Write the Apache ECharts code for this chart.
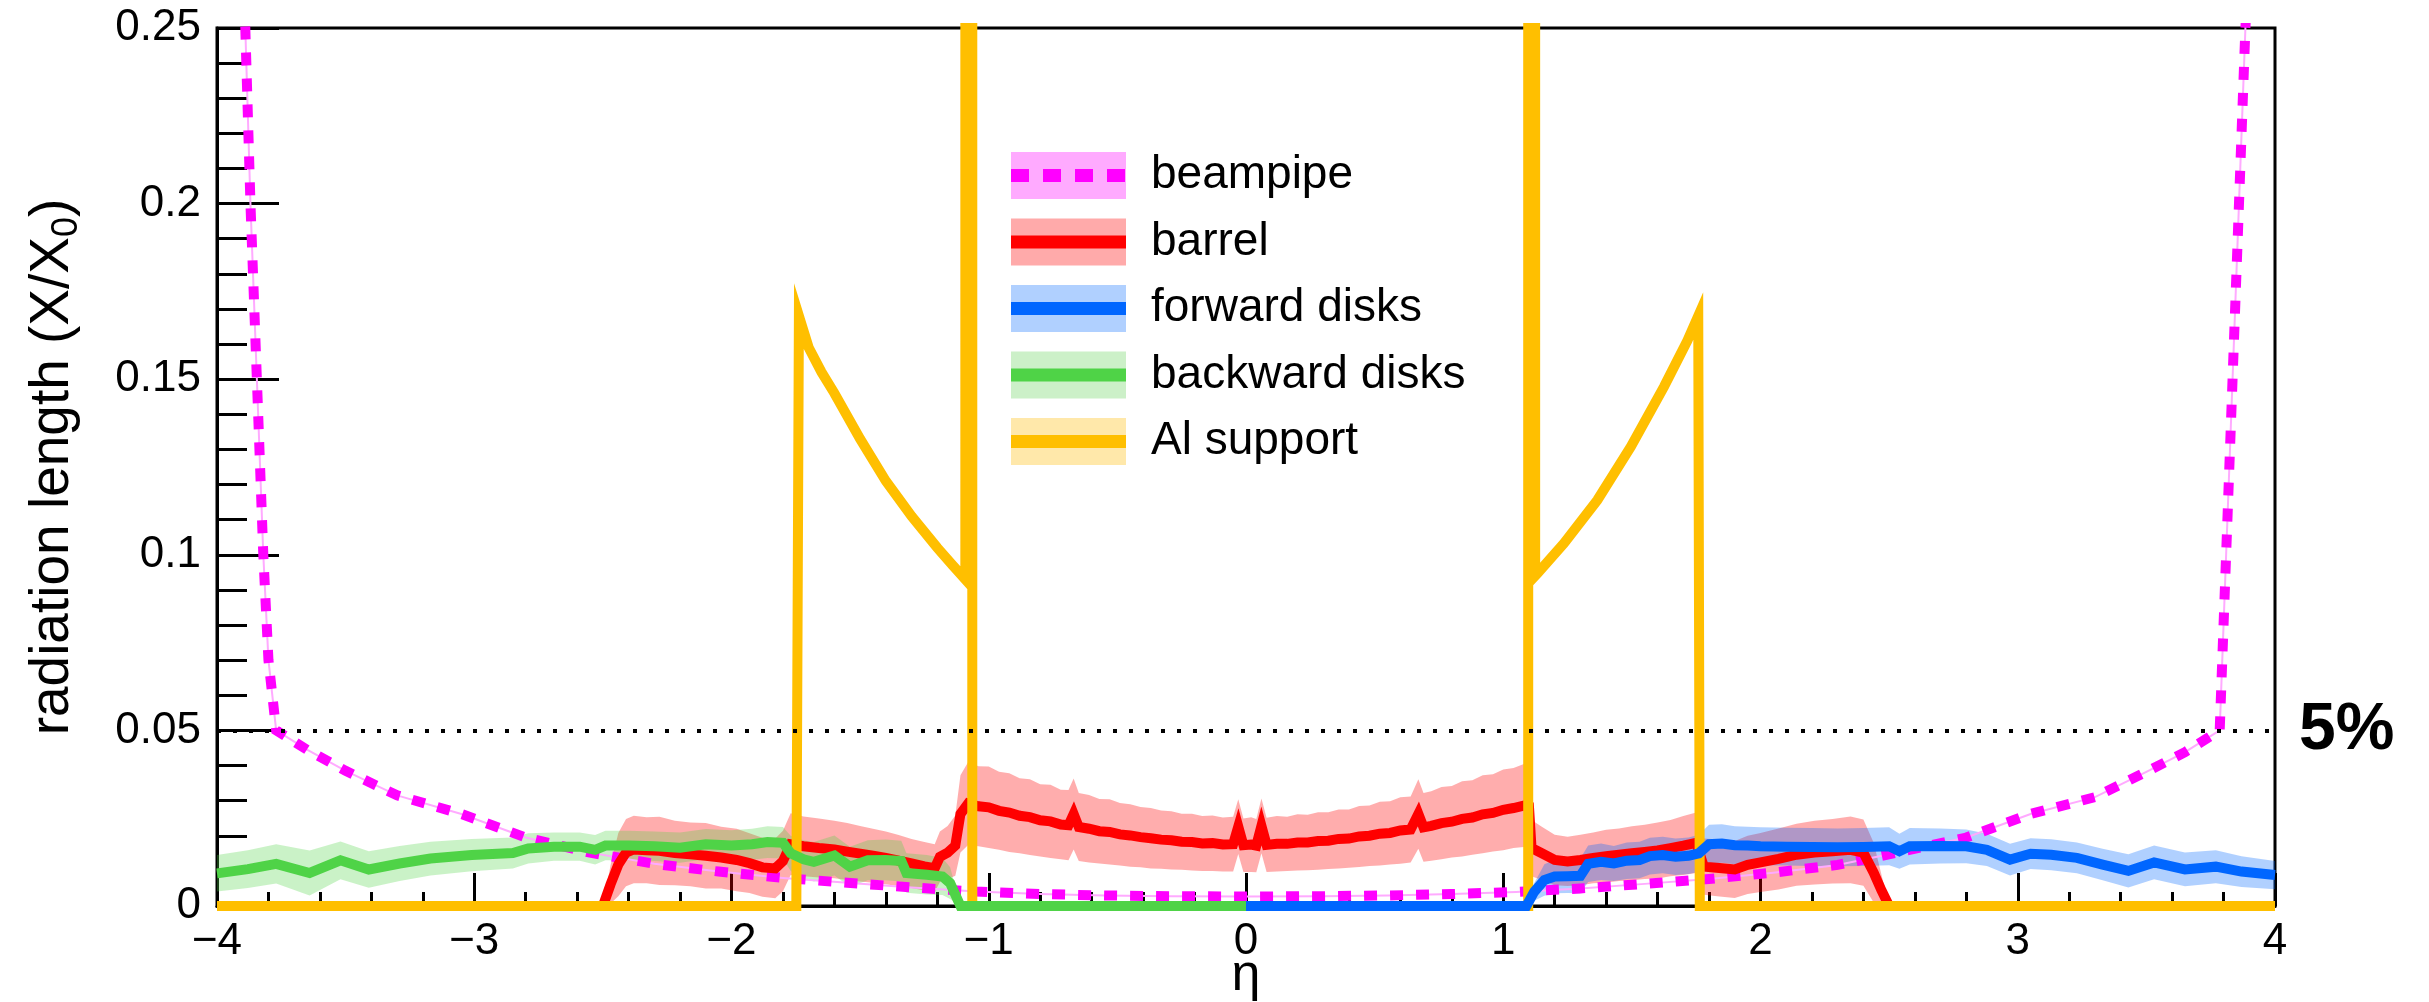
<!DOCTYPE html>
<html>
<head>
<meta charset="utf-8">
<title>Radiation length vs pseudorapidity</title>
<script src="https://cdn.jsdelivr.net/npm/echarts@6.0.0/dist/echarts.min.js"></script>
<style>
  html, body { margin: 0; padding: 0; background: #ffffff; }
  #chart { width: 2429px; height: 1002px; }
</style>
</head>
<body>
<div id="chart"></div>
<script>
// ---------------- data ----------------
// beampipe (thin central pipe, rises steeply at large |eta|)
const beampipeEta = [-3.91, -3.89, -3.87, -3.845, -3.82, -3.80, -3.77, -3.65, -3.50, -3.30, -3.05, -2.80, -2.55, -2.30, -2.05, -1.80, -1.55, -1.30, -1.05, -0.80, -0.55, -0.30, 0.00, 0.30, 0.55, 0.80, 1.05, 1.30, 1.55, 1.80, 2.05, 2.30, 2.55, 2.80, 3.05, 3.30, 3.50, 3.65, 3.785, 3.795, 3.81, 3.835, 3.86, 3.885, 3.905];
const beampipeVal = [0.280, 0.250, 0.200, 0.150, 0.100, 0.070, 0.050, 0.0445, 0.0385, 0.0315, 0.0262, 0.0195, 0.0152, 0.0120, 0.0098, 0.0080, 0.0066, 0.0053, 0.0041, 0.0034, 0.0030, 0.0028, 0.0027, 0.0028, 0.0030, 0.0034, 0.0040, 0.0050, 0.0063, 0.0077, 0.0095, 0.0117, 0.0155, 0.0195, 0.0262, 0.0310, 0.0382, 0.0438, 0.0500, 0.070, 0.100, 0.150, 0.200, 0.250, 0.280];

// barrel layers
const barrelEta = [-2.60, -2.50, -2.47, -2.44, -2.41, -2.38, -2.33, -2.28, -2.22, -2.16, -2.10, -2.04, -1.98, -1.93, -1.88, -1.83, -1.80, -1.77, -1.72, -1.66, -1.60, -1.55, -1.50, -1.45, -1.40, -1.35, -1.30, -1.25, -1.21, -1.19, -1.16, -1.13, -1.11, -1.08, -1.04, -1.00, -0.96, -0.92, -0.88, -0.84, -0.80, -0.76, -0.72, -0.69, -0.67, -0.65, -0.61, -0.57, -0.53, -0.49, -0.45, -0.41, -0.37, -0.33, -0.29, -0.25, -0.21, -0.17, -0.13, -0.09, -0.05, -0.03, -0.01, 0.02, 0.04, 0.06, 0.08, 0.12, 0.16, 0.20, 0.24, 0.28, 0.32, 0.36, 0.40, 0.44, 0.48, 0.52, 0.56, 0.60, 0.64, 0.67, 0.69, 0.72, 0.76, 0.80, 0.84, 0.88, 0.92, 0.96, 1.00, 1.04, 1.08, 1.10, 1.11, 1.15, 1.20, 1.25, 1.30, 1.35, 1.40, 1.45, 1.50, 1.55, 1.60, 1.65, 1.70, 1.75, 1.78, 1.84, 1.90, 1.95, 2.00, 2.07, 2.14, 2.21, 2.28, 2.35, 2.40, 2.44, 2.47, 2.50, 2.60];
const barrelVal = [0.0000, 0.0000, 0.0062, 0.0118, 0.0152, 0.0161, 0.0159, 0.0157, 0.0151, 0.0147, 0.0143, 0.0138, 0.0131, 0.0122, 0.0110, 0.0107, 0.0128, 0.0176, 0.0170, 0.0165, 0.0161, 0.0155, 0.0149, 0.0143, 0.0137, 0.0129, 0.0121, 0.0113, 0.0108, 0.0140, 0.0152, 0.0172, 0.0262, 0.0292, 0.0284, 0.0281, 0.0271, 0.0266, 0.0257, 0.0253, 0.0244, 0.0241, 0.0232, 0.0230, 0.0262, 0.0225, 0.0220, 0.0213, 0.0211, 0.0204, 0.0201, 0.0196, 0.0193, 0.0189, 0.0187, 0.0183, 0.0182, 0.0178, 0.0179, 0.0175, 0.0176, 0.0226, 0.0173, 0.0175, 0.0172, 0.0228, 0.0174, 0.0177, 0.0177, 0.0181, 0.0181, 0.0185, 0.0186, 0.0191, 0.0192, 0.0198, 0.0200, 0.0206, 0.0208, 0.0215, 0.0218, 0.0262, 0.0224, 0.0228, 0.0236, 0.0240, 0.0248, 0.0252, 0.0261, 0.0265, 0.0274, 0.0279, 0.0286, 0.0283, 0.0165, 0.0150, 0.0131, 0.0127, 0.0131, 0.0137, 0.0142, 0.0146, 0.0150, 0.0154, 0.0158, 0.0165, 0.0172, 0.0180, 0.0112, 0.0108, 0.0104, 0.0117, 0.0124, 0.0134, 0.0146, 0.0152, 0.0156, 0.0160, 0.0152, 0.0095, 0.0045, 0.0000, 0.0000];
const barrelErr = [0.0000, 0.0000, 0.0055, 0.0090, 0.0096, 0.0096, 0.0094, 0.0097, 0.0092, 0.0091, 0.0093, 0.0088, 0.0089, 0.0085, 0.0084, 0.0085, 0.0086, 0.0088, 0.0085, 0.0084, 0.0082, 0.0081, 0.0079, 0.0077, 0.0075, 0.0073, 0.0070, 0.0069, 0.0068, 0.0072, 0.0076, 0.0086, 0.0110, 0.0118, 0.0114, 0.0116, 0.0111, 0.0112, 0.0107, 0.0108, 0.0103, 0.0104, 0.0099, 0.0100, 0.0101, 0.0097, 0.0096, 0.0092, 0.0093, 0.0089, 0.0089, 0.0086, 0.0086, 0.0083, 0.0083, 0.0080, 0.0081, 0.0078, 0.0079, 0.0077, 0.0078, 0.0078, 0.0076, 0.0078, 0.0076, 0.0078, 0.0077, 0.0079, 0.0077, 0.0080, 0.0079, 0.0082, 0.0081, 0.0084, 0.0083, 0.0087, 0.0086, 0.0091, 0.0090, 0.0095, 0.0094, 0.0099, 0.0098, 0.0099, 0.0103, 0.0102, 0.0107, 0.0106, 0.0111, 0.0110, 0.0115, 0.0114, 0.0118, 0.0116, 0.0080, 0.0076, 0.0072, 0.0070, 0.0072, 0.0072, 0.0075, 0.0075, 0.0077, 0.0077, 0.0080, 0.0080, 0.0084, 0.0086, 0.0080, 0.0081, 0.0081, 0.0083, 0.0084, 0.0087, 0.0088, 0.0091, 0.0092, 0.0095, 0.0094, 0.0085, 0.0045, 0.0000, 0.0000];

// forward disks (eta > 0)
const forwardEta = [0.00, 1.09, 1.12, 1.16, 1.20, 1.25, 1.30, 1.33, 1.38, 1.43, 1.48, 1.53, 1.57, 1.62, 1.67, 1.72, 1.76, 1.80, 1.85, 1.90, 1.95, 2.00, 2.10, 2.20, 2.30, 2.40, 2.50, 2.54, 2.58, 2.70, 2.80, 2.88, 2.97, 3.05, 3.13, 3.23, 3.33, 3.43, 3.53, 3.65, 3.77, 3.87, 4.00];
const forwardVal = [0.0000, 0.0000, 0.0040, 0.0074, 0.0084, 0.0085, 0.0086, 0.0120, 0.0126, 0.0121, 0.0129, 0.0131, 0.0142, 0.0145, 0.0140, 0.0143, 0.0150, 0.0176, 0.0178, 0.0173, 0.0172, 0.0170, 0.0169, 0.0168, 0.0167, 0.0168, 0.0170, 0.0156, 0.0170, 0.0171, 0.0170, 0.0160, 0.0132, 0.0149, 0.0146, 0.0137, 0.0118, 0.0100, 0.0124, 0.0104, 0.0112, 0.0098, 0.0088];
const forwardErr = [0.0000, 0.0000, 0.0025, 0.0045, 0.0048, 0.0048, 0.0050, 0.0052, 0.0052, 0.0050, 0.0052, 0.0052, 0.0052, 0.0052, 0.0052, 0.0052, 0.0053, 0.0055, 0.0055, 0.0054, 0.0054, 0.0054, 0.0054, 0.0054, 0.0054, 0.0054, 0.0054, 0.0050, 0.0052, 0.0050, 0.0048, 0.0046, 0.0045, 0.0044, 0.0044, 0.0044, 0.0045, 0.0047, 0.0048, 0.0048, 0.0047, 0.0044, 0.0040];

// backward disks (eta < 0)
const backwardEta = [-4.00, -3.88, -3.77, -3.64, -3.52, -3.41, -3.29, -3.17, -3.01, -2.85, -2.79, -2.69, -2.59, -2.53, -2.49, -2.40, -2.30, -2.20, -2.10, -2.00, -1.92, -1.86, -1.80, -1.77, -1.72, -1.68, -1.60, -1.54, -1.47, -1.40, -1.34, -1.32, -1.24, -1.18, -1.15, -1.11, 0.00];
const backwardVal = [0.0093, 0.0105, 0.0120, 0.0094, 0.0130, 0.0104, 0.0121, 0.0135, 0.0145, 0.0151, 0.0164, 0.0169, 0.0169, 0.0160, 0.0172, 0.0172, 0.0170, 0.0166, 0.0176, 0.0172, 0.0176, 0.0182, 0.0180, 0.0150, 0.0133, 0.0126, 0.0144, 0.0112, 0.0130, 0.0131, 0.0128, 0.0094, 0.0089, 0.0084, 0.0065, 0.0000, 0.0000];
const backwardErr = [0.0052, 0.0054, 0.0056, 0.0064, 0.0054, 0.0052, 0.0050, 0.0048, 0.0046, 0.0044, 0.0043, 0.0040, 0.0040, 0.0042, 0.0042, 0.0042, 0.0042, 0.0043, 0.0043, 0.0044, 0.0044, 0.0045, 0.0045, 0.0050, 0.0054, 0.0056, 0.0057, 0.0057, 0.0057, 0.0058, 0.0058, 0.0056, 0.0056, 0.0053, 0.0045, 0.0000, 0.0000];

// aluminium support structure
const alEta = [-4.000, -1.748, -1.738, -1.700, -1.650, -1.600, -1.500, -1.400, -1.300, -1.200, -1.140, -1.091, -1.091, -1.064, -1.064, 1.097, 1.097, 1.124, 1.124, 1.133, 1.236, 1.366, 1.496, 1.625, 1.716, 1.758, 1.764, 4.000];
const alVal = [0.000, 0.000, 0.168, 0.159, 0.152, 0.146, 0.133, 0.121, 0.111, 0.102, 0.097, 0.093, 2.000, 2.000, 0.000, 0.000, 2.000, 2.000, 0.094, 0.0947, 0.1033, 0.1156, 0.1308, 0.1479, 0.161, 0.168, 0.000, 0.000];

// 5% reference level
const thresholdValue = 0.05;
const thresholdLabel = '5%';

// axis ticks
const etaTicks = [-4, -3, -2, -1, 0, 1, 2, 3, 4];
const x0Ticks = [0, 0.05, 0.1, 0.15, 0.2, 0.25];

// legend entries
const legendNames = ['beampipe', 'barrel', 'forward disks', 'backward disks', 'Al support'];

// ---------------- styles ----------------
const FONT = "'Liberation Sans', Arial, Helvetica, sans-serif";
const COLORS = {
  beampipe: '#ff00ff', beampipeBand: '#ffaaff',
  barrel: '#ff0000', barrelBand: 'rgba(255,0,0,0.32)', barrelSwatch: '#ffaaaa',
  forward: '#0066ff', forwardBand: 'rgba(0,102,255,0.31)', forwardSwatch: '#b0d0ff',
  backward: '#4fd347', backwardBand: 'rgba(79,211,71,0.30)', backwardSwatch: '#ccf0c8',
  al: '#ffbf00', alSwatch: '#ffe8aa'
};
const LINE_W = 10;

const zip = (xs, ys) => xs.map((x, i) => [x, ys[i]]);

// Uncertainty band drawn as a single polygon: upper edge forward, lower edge back.
function bandSeries(name, eta, val, err, fill) {
  return {
    type: 'custom',
    name: name,
    silent: true,
    clip: true,
    data: zip(eta, val),
    encode: { x: 0, y: 1 },
    renderItem: function (params, api) {
      if (params.dataIndex !== 0) return null;
      const pts = [];
      for (let i = 0; i < eta.length; i++) pts.push(api.coord([eta[i], val[i] + err[i]]));
      for (let i = eta.length - 1; i >= 0; i--) pts.push(api.coord([eta[i], Math.max(0, val[i] - err[i])]));
      return { type: 'polygon', shape: { points: pts }, style: { fill: fill } };
    }
  };
}

function lineSeries(name, eta, val, style) {
  return {
    type: 'line',
    name: name,
    data: zip(eta, val),
    showSymbol: false,
    symbol: 'none',
    silent: true,
    clip: true,
    lineStyle: Object.assign({ width: LINE_W, cap: 'butt', join: 'miter', miterLimit: 10 }, style),
    itemStyle: { color: style.color }
  };
}

// ---------------- legend (drawn as graphics) ----------------
const LEG = { x: 1011, w: 115, h: 47, top: 175.5, step: 66.5, textX: 1151, lineW: 13 };
const legendStyles = [
  { band: COLORS.beampipeBand, line: COLORS.beampipe, dash: [18, 14] },
  { band: COLORS.barrelSwatch, line: COLORS.barrel },
  { band: COLORS.forwardSwatch, line: COLORS.forward },
  { band: COLORS.backwardSwatch, line: COLORS.backward },
  { band: COLORS.alSwatch, line: COLORS.al }
];
const legendGraphics = [];
legendNames.forEach(function (name, i) {
  const cy = LEG.top + i * LEG.step;
  const st = legendStyles[i];
  legendGraphics.push({
    type: 'rect', silent: true,
    shape: { x: LEG.x, y: cy - LEG.h / 2, width: LEG.w, height: LEG.h },
    style: { fill: st.band }
  });
  legendGraphics.push({
    type: 'line', silent: true,
    shape: { x1: LEG.x, y1: cy, x2: LEG.x + LEG.w, y2: cy },
    style: { stroke: st.line, lineWidth: LEG.lineW, lineDash: st.dash || null, lineCap: 'butt' }
  });
  legendGraphics.push({
    type: 'text', silent: true,
    style: { text: name, x: LEG.textX, y: cy, fontSize: 46, fontFamily: FONT, fill: '#000', align: 'left', verticalAlign: 'middle' }
  });
});

// ---------------- chart ----------------
const chart = echarts.init(document.getElementById('chart'), null, { renderer: 'canvas' });

const tickLine = { color: '#000', width: 3 };

const option = {
  animation: false,
  backgroundColor: '#ffffff',
  textStyle: { fontFamily: FONT },
  grid: {
    left: 217, right: 154, top: 28, bottom: 96,
    show: true, borderColor: '#000', borderWidth: 3, backgroundColor: 'transparent',
    containLabel: false, outerBoundsMode: 'none'
  },
  xAxis: {
    type: 'value',
    min: etaTicks[0], max: etaTicks[etaTicks.length - 1], interval: 1,
    axisLine: { onZero: false, lineStyle: { color: '#000', width: 3 } },
    axisTick: { inside: true, length: 33, lineStyle: tickLine },
    minorTick: { show: true, splitNumber: 5, length: 14, lineStyle: tickLine },
    splitLine: { show: false },
    axisLabel: {
      fontSize: 44, color: '#000', fontFamily: FONT, margin: 14,
      formatter: function (v) { return v < 0 ? '\u2212' + Math.abs(v) : String(v); }
    },
    name: '\u03b7', nameLocation: 'middle', nameGap: 44, nameMoveOverlap: false,
    nameTextStyle: { fontSize: 52, color: '#000', fontFamily: FONT }
  },
  yAxis: {
    type: 'value',
    min: x0Ticks[0], max: x0Ticks[x0Ticks.length - 1], interval: 0.05,
    axisLine: { onZero: false, lineStyle: { color: '#000', width: 3 } },
    axisTick: { inside: true, length: 62, lineStyle: tickLine },
    minorTick: { show: true, splitNumber: 5, length: 30, lineStyle: tickLine },
    splitLine: { show: false },
    axisLabel: { fontSize: 44, color: '#000', fontFamily: FONT, margin: 16 },
    name: 'radiation length (X/X{sub|0})', nameLocation: 'middle', nameGap: 132, nameMoveOverlap: false,
    nameTextStyle: {
      fontSize: 55, color: '#000', fontFamily: FONT, lineHeight: 64,
      rich: { sub: { fontSize: 36, lineHeight: 22, verticalAlign: 'bottom', color: '#000', fontFamily: FONT } }
    }
  },
  graphic: legendGraphics,
  series: [
    // beampipe uncertainty (very thin) with the 5% reference line
    Object.assign(lineSeries('beampipe band', beampipeEta, beampipeVal, { color: COLORS.beampipeBand, width: 2 }), {
      markLine: {
        silent: true, animation: false,
        symbol: ['none', 'none'],
        data: [{ yAxis: thresholdValue }],
        lineStyle: { color: '#000', width: 4, type: [4, 12] },
        label: { show: true, position: 'end', formatter: thresholdLabel, distance: 24, fontSize: 66, fontWeight: 'bold', color: '#000', fontFamily: FONT }
      }
    }),
    lineSeries('beampipe', beampipeEta, beampipeVal, { color: COLORS.beampipe, width: 10, type: [13, 13] }),
    bandSeries('barrel band', barrelEta, barrelVal, barrelErr, COLORS.barrelBand),
    lineSeries('barrel', barrelEta, barrelVal, { color: COLORS.barrel }),
    lineSeries('Al support', alEta, alVal, { color: COLORS.al }),
    bandSeries('forward disks band', forwardEta, forwardVal, forwardErr, COLORS.forwardBand),
    lineSeries('forward disks', forwardEta, forwardVal, { color: COLORS.forward }),
    bandSeries('backward disks band', backwardEta, backwardVal, backwardErr, COLORS.backwardBand),
    lineSeries('backward disks', backwardEta, backwardVal, { color: COLORS.backward })
  ]
};

chart.setOption(option);
</script>
</body>
</html>
